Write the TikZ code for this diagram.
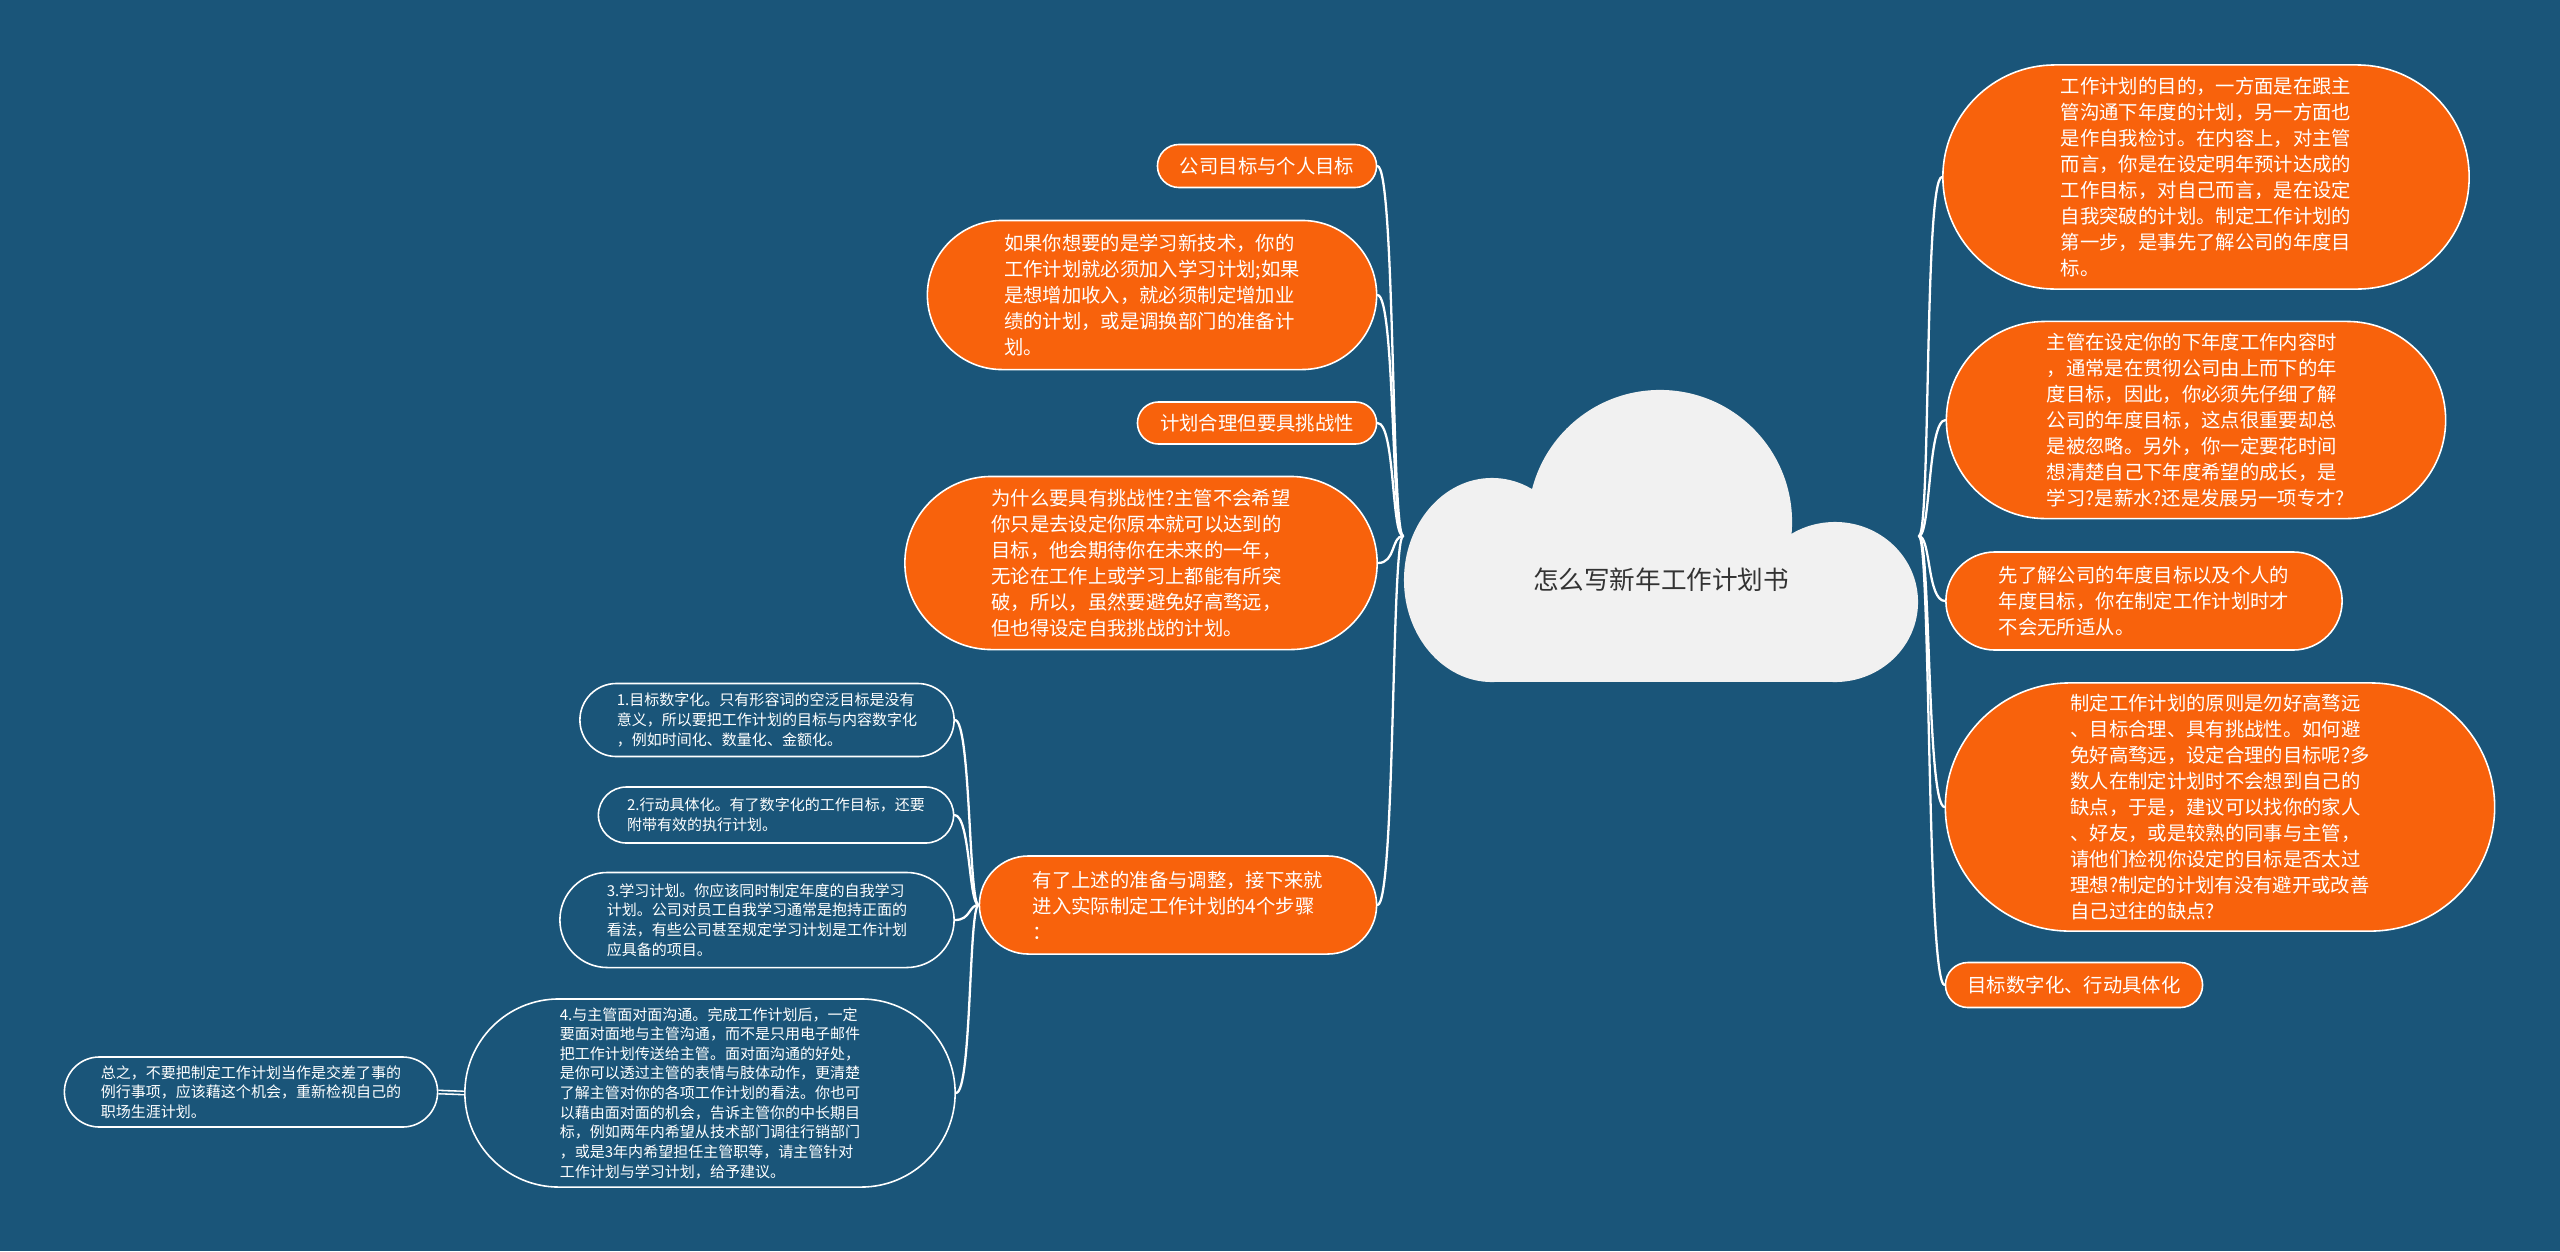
\documentclass[tikz,border=0pt]{standalone}
\usepackage{fontspec}
\newfontfamily\cjk{Noto Sans CJK SC}
\usepackage{tikz}
\usetikzlibrary{shapes.misc,backgrounds}
\definecolor{fondbleu}{HTML}{1A5579}
\definecolor{orangevif}{HTML}{F8620C}
\definecolor{nuage}{HTML}{F1F1F1}
\definecolor{encre}{HTML}{333333}

\begin{document}
\begin{tikzpicture}[
    x=0.01cm, y=-0.01cm,
    every node/.style={font=\cjk, align=left, text=white, inner sep=0pt},
    bub/.style={rounded rectangle, fill=orangevif, draw=white, line width=0.45pt,
                font=\cjk\fontsize{5.5}{7.4}\selectfont},          % bulle orange
    sub/.style={bub, fill=fondbleu, font=\cjk\fontsize{4.27}{5.58}\selectfont}, % etape
    lnk/.style={draw=white, line width=0.65pt, line cap=round},   % lien
    lnkdbl/.style={draw=white, line width=0.45pt, double=fondbleu, double distance=0.5pt}
  ]

  % ============ fond et nuage central ====================================
  \begin{scope}[on background layer]
    \fill[fondbleu] (0,0) rectangle (2560,1251);
  \end{scope}
  \begin{scope}
    \clip (1380,380) rectangle (1940,682);
    \fill[nuage] (1492,580) ellipse [x radius=0.88cm, y radius=1.02cm];   % lobe gauche
    \fill[nuage] (1660,522) circle [radius=1.32cm];                       % lobe haut
    \fill[nuage] (1835,602) ellipse [x radius=0.83cm, y radius=0.80cm];   % lobe droit
    \fill[nuage] (1492,560) rectangle (1835,682);
  \end{scope}
  \node[minimum width=5.14cm, minimum height=2.92cm] (root) at (1661,536) {};
  \node[font=\cjk\fontsize{7.28}{8}\selectfont, text=encre] (titre) at (1661,580) {怎么写新年工作计划书};

  % ============ cote droit ===============================================
  \node[bub, minimum width=5.26cm, minimum height=2.24cm] (r1) at (2206,177)
    {工作计划的目的，一方面是在跟主\\管沟通下年度的计划，另一方面也\\是作自我检讨。在内容上，对主管\\而言，你是在设定明年预计达成的\\工作目标，对自己而言，是在设定\\自我突破的计划。制定工作计划的\\第一步，是事先了解公司的年度目\\标。};
  \node[bub, minimum width=4.99cm, minimum height=1.97cm] (r2) at (2196,420)
    {主管在设定你的下年度工作内容时\\，通常是在贯彻公司由上而下的年\\度目标，因此，你必须先仔细了解\\公司的年度目标，这点很重要却总\\是被忽略。另外，你一定要花时间\\想清楚自己下年度希望的成长，是\\学习?是薪水?还是发展另一项专才?};
  \node[bub, minimum width=3.96cm, minimum height=0.98cm] (r3) at (2144,601)
    {先了解公司的年度目标以及个人的\\年度目标，你在制定工作计划时才\\不会无所适从。};
  \node[bub, minimum width=5.49cm, minimum height=2.48cm] (r4) at (2220,807)
    {制定工作计划的原则是勿好高骛远\\、目标合理、具有挑战性。如何避\\免好高骛远，设定合理的目标呢?多\\数人在制定计划时不会想到自己的\\缺点，于是，建议可以找你的家人\\、好友，或是较熟的同事与主管，\\请他们检视你设定的目标是否太过\\理想?制定的计划有没有避开或改善\\自己过往的缺点?};
  \node[bub, minimum width=2.57cm, minimum height=0.45cm] (r5) at (2074,985)
    {目标数字化、行动具体化};

  \foreach \n in {r1,r2,r3,r4,r5}
    \draw[lnk] (root.east) .. controls +(12,0) and +(-18,0) .. (\n.west);

  % ============ cote gauche ==============================================
  \node[bub, minimum width=2.19cm, minimum height=0.43cm] (l1) at (1267,166)
    {公司目标与个人目标};
  \node[bub, minimum width=4.49cm, minimum height=1.49cm] (l2) at (1152,295)
    {如果你想要的是学习新技术，你的\\工作计划就必须加入学习计划;如果\\是想增加收入，就必须制定增加业\\绩的计划，或是调换部门的准备计\\划。};
  \node[bub, minimum width=2.39cm, minimum height=0.42cm] (l3) at (1257,423)
    {计划合理但要具挑战性};
  \node[bub, minimum width=4.72cm, minimum height=1.73cm] (l4) at (1141,563)
    {为什么要具有挑战性?主管不会希望\\你只是去设定你原本就可以达到的\\目标，他会期待你在未来的一年，\\无论在工作上或学习上都能有所突\\破，所以，虽然要避免好高骛远，\\但也得设定自我挑战的计划。};
  \node[bub, minimum width=3.97cm, minimum height=0.98cm] (l5) at (1178,905)
    {有了上述的准备与调整，接下来就\\进入实际制定工作计划的4个步骤\\：};

  \foreach \n in {l1,l2,l3,l4,l5}
    \draw[lnk] (root.west) .. controls +(-12,0) and +(18,0) .. (\n.east);

  % ============ les 4 etapes =============================================
  \node[sub, minimum width=3.74cm, minimum height=0.73cm] (s1) at (767,720)
    {1.目标数字化。只有形容词的空泛目标是没有\\意义，所以要把工作计划的目标与内容数字化\\，例如时间化、数量化、金额化。};
  \node[sub, minimum width=3.55cm, minimum height=0.56cm] (s2) at (776,815)
    {2.行动具体化。有了数字化的工作目标，还要\\附带有效的执行计划。};
  \node[sub, minimum width=3.94cm, minimum height=0.95cm] (s3) at (757,920)
    {3.学习计划。你应该同时制定年度的自我学习\\计划。公司对员工自我学习通常是抱持正面的\\看法，有些公司甚至规定学习计划是工作计划\\应具备的项目。};
  \node[sub, minimum width=4.90cm, minimum height=1.88cm] (s4) at (710,1093)
    {4.与主管面对面沟通。完成工作计划后，一定\\要面对面地与主管沟通，而不是只用电子邮件\\把工作计划传送给主管。面对面沟通的好处，\\是你可以透过主管的表情与肢体动作，更清楚\\了解主管对你的各项工作计划的看法。你也可\\以藉由面对面的机会，告诉主管你的中长期目\\标，例如两年内希望从技术部门调往行销部门\\，或是3年内希望担任主管职等，请主管针对\\工作计划与学习计划，给予建议。};
  \node[sub, minimum width=3.73cm, minimum height=0.70cm] (s5) at (251,1092)
    {总之，不要把制定工作计划当作是交差了事的\\例行事项，应该藉这个机会，重新检视自己的\\职场生涯计划。};

  \foreach \n in {s1,s2,s3,s4}
    \draw[lnk] (l5.west) .. controls +(-10,0) and +(16,0) .. (\n.east);
  \draw[lnkdbl] (s4.west) -- (s5.east);

\end{tikzpicture}
\end{document}
